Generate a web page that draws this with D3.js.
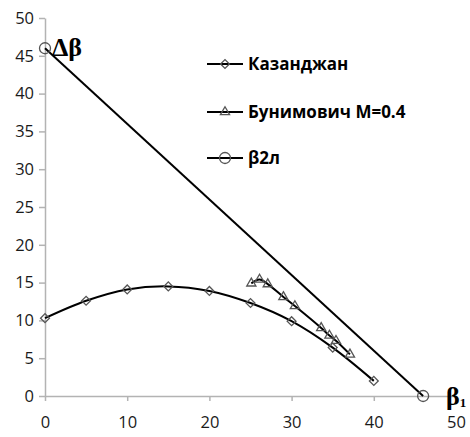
<!DOCTYPE html>
<html><head><meta charset="utf-8">
<script src="https://cdn.jsdelivr.net/npm/d3@7"></script>
<style>body{margin:0;background:#fff}</style>
</head><body>
<svg id="c" width="470" height="437"></svg>
<script>
const xTicks = [0, 10, 20, 30, 40, 50];
const yTicks = [0, 5, 10, 15, 20, 25, 30, 35, 40, 45, 50];
const kazX = [0, 5, 10, 15, 20, 25, 30, 35, 40];
const kazY = [10.3, 12.6, 14.1, 14.5, 13.9, 12.3, 9.9, 6.4, 2.0];
const bunX = [25.1, 26.1, 27.1, 29.0, 30.4, 33.6, 34.6, 35.4, 37.1];
const bunY = [14.9, 15.4, 14.8, 13.1, 11.9, 9.0, 8.0, 7.3, 5.5];
const b2X = [0, 46];
const b2Y = [46, 0];
const legendNames = ["Казанджан", "Бунимович M=0.4", "β2л"];

const svg = d3.select("#c");
const x = d3.scaleLinear().domain([0, 50]).range([45, 456]);
const y = d3.scaleLinear().domain([0, 50]).range([396, 18]);
const axisCol = "#b3b3b3";
const tickFont = "Open Sans, Noto Sans, sans-serif";

const gx = svg.append("g").attr("transform", "translate(0,396)")
  .call(d3.axisBottom(x).tickValues(xTicks).tickSize(5).tickSizeOuter(0).tickPadding(15));
const gy = svg.append("g").attr("transform", "translate(45,0)")
  .call(d3.axisLeft(y).tickValues(yTicks).tickSize(6).tickSizeOuter(0).tickPadding(5));
[gx, gy].forEach(g => {
  g.select(".domain").attr("stroke", axisCol).attr("stroke-width", 1.5);
  g.selectAll(".tick line").attr("stroke", axisCol).attr("stroke-width", 1.5);
  g.selectAll(".tick text").attr("fill", "#1a1a1a").style("font-family", tickFont).style("font-size", "16.5px");
});

const line = d3.line().x(d => x(d[0])).y(d => y(d[1]));
const smooth = d3.line().x(d => x(d[0])).y(d => y(d[1])).curve(d3.curveCatmullRom.alpha(0.5));

const kaz = kazX.map((v, i) => [v, kazY[i]]);
const bun = bunX.map((v, i) => [v, bunY[i]]);
const b2 = b2X.map((v, i) => [v, b2Y[i]]);

svg.append("path").attr("d", line(b2)).attr("fill", "none").attr("stroke", "#000").attr("stroke-width", 2);
svg.append("path").attr("d", smooth(kaz)).attr("fill", "none").attr("stroke", "#000").attr("stroke-width", 2);
svg.append("path").attr("d", smooth(bun)).attr("fill", "none").attr("stroke", "#000").attr("stroke-width", 2);

const tri = d3.symbol().type(d3.symbolTriangle2).size(60);
function marker(g, cx, cy, kind) {
  if (kind === 0) g.append("path").attr("d", d3.symbol().type(d3.symbolSquare2).size(50)()).attr("transform", `translate(${cx},${cy}) rotate(45)`).attr("fill", "none").attr("stroke", "#555").attr("stroke-width", 1.3);
  else if (kind === 1) g.append("path").attr("d", tri()).attr("transform", `translate(${cx},${cy})`).attr("fill", "none").attr("stroke", "#555").attr("stroke-width", 1.3);
  else g.append("circle").attr("cx", cx).attr("cy", cy).attr("r", 5.5).attr("fill", "none").attr("stroke", "#555").attr("stroke-width", 1.3);
}
const mg = svg.append("g");
kaz.forEach(d => marker(mg, x(d[0]), y(d[1]), 0));
bun.forEach(d => marker(mg, x(d[0]), y(d[1]), 1));
b2.forEach(d => marker(mg, x(d[0]), y(d[1]), 2));

// legend
const lg = svg.append("g");
const rows = [64, 112, 158];
legendNames.forEach((n, i) => {
  lg.append("line").attr("x1", 207).attr("x2", 243).attr("y1", rows[i]).attr("y2", rows[i]).attr("stroke", "#000").attr("stroke-width", 2);
  marker(lg, 225, rows[i], i);
  lg.append("text").attr("x", 248).attr("y", rows[i]).attr("dy", "0.36em")
    .style("font-family", "Open Sans, sans-serif").style("font-weight", "bold").style("font-size", "17px")
    .attr("fill", "#000").text(n);
});

// axis titles
svg.append("text").attr("x", 52).attr("y", 56).style("font-family", "Liberation Serif, serif").style("font-weight", "bold").style("font-size", "26px").text("Δβ");
const bt = svg.append("text").attr("x", 446).attr("y", 405).style("font-family", "Liberation Serif, serif").style("font-weight", "bold").style("font-size", "26px");
bt.append("tspan").text("β");
bt.append("tspan").style("font-size", "13px").attr("dy", 2).text("1");
</script>
</body></html>
